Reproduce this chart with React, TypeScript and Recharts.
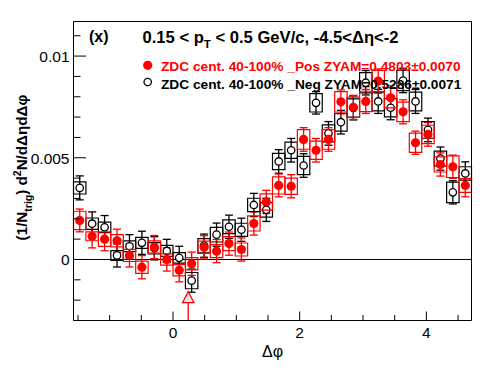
/**
 * Delta-phi correlation, ZDC 40-100%, Pos vs Neg (ZYAM subtracted).
 */

import React from "react";
import {
  ComposedChart, Scatter, XAxis, YAxis, ErrorBar,
  ReferenceArea, ReferenceLine,
} from "recharts";

// bin centres in delta-phi (32 bins over -pi/2 .. 3pi/2)
const phi = [
  -1.4726, -1.2763, -1.0799, -0.8836, -0.6872, -0.4909, -0.2945, -0.0982,
  0.0982, 0.2945, 0.4909, 0.6872, 0.8836, 1.0799, 1.2763, 1.4726,
  1.669, 1.8653, 2.0617, 2.258, 2.4544, 2.6507, 2.8471, 3.0434,
  3.2398, 3.4361, 3.6325, 3.8288, 4.0252, 4.2215, 4.4179, 4.6142,
];
const binWidth = 0.19635;

const posY = [
  0.00192, 0.00114, 0.001, 0.00092, 0.0002, -0.00038, 0.00061, 0.0,
  -0.00053, -0.00021, 0.0006, 0.00041, 0.00078, 0.00049, 0.00177, 0.00283,
  0.00364, 0.0036, 0.0059, 0.00537, 0.0059, 0.00775, 0.00748, 0.00777,
  0.00877, 0.00795, 0.00726, 0.00574, 0.00615, 0.00467, 0.00456, 0.00364,
];
const posStat = [
  0.00056, 0.00057, 0.00057, 0.00057, 0.00057, 0.00057, 0.00057, 0.00057,
  0.00057, 0.00057, 0.00057, 0.00057, 0.00057, 0.00057, 0.00057, 0.00057,
  0.00056, 0.00057, 0.00058, 0.00058, 0.00058, 0.00059, 0.00059, 0.00059,
  0.0006, 0.00059, 0.00059, 0.00057, 0.00058, 0.00057, 0.00057, 0.00056,
];
const posSys = [
  0.00045, 0.00022, 0.00036, 0.0003, 0.0003, 0.0003, 0.0003, 0.00028,
  0.00028, 0.0003, 0.0003, 0.00032, 0.00034, 0.00032, 0.00037, 0.0004,
  0.00042, 0.0004, 0.00048, 0.00045, 0.00048, 0.0005, 0.0005, 0.0005,
  0.00052, 0.0005, 0.00048, 0.00047, 0.00045, 0.00037, 0.00053, 0.00034,
];

const negY = [
  0.00352, 0.00176, 0.00158, 0.0002, 0.00065, 0.00082, 0.00055, 0.00042,
  0.00008, -0.00104, 0.00068, 0.00122, 0.00161, 0.00146, 0.00268, 0.00244,
  0.00482, 0.00537, 0.00462, 0.0077, 0.0062, 0.00675, 0.00745, 0.00869,
  0.00777, 0.00746, 0.0088, 0.00777, 0.00637, 0.00496, 0.0033, 0.00423,
];
const negStat = [
  0.00059, 0.00058, 0.00058, 0.00057, 0.00057, 0.00057, 0.00057, 0.00057,
  0.00057, 0.00057, 0.00057, 0.00057, 0.00057, 0.00057, 0.00057, 0.00057,
  0.00058, 0.00058, 0.00058, 0.00055, 0.00058, 0.00058, 0.00059, 0.0006,
  0.00059, 0.00059, 0.0006, 0.00059, 0.00058, 0.00057, 0.00057, 0.00057,
];
const negSys = [
  0.0003, 0.00028, 0.00026, 0.00024, 0.00026, 0.00027, 0.00028, 0.00027,
  0.00026, 0.0004, 0.00035, 0.00036, 0.00034, 0.00032, 0.00033, 0.00036,
  0.0004, 0.0004, 0.00045, 0.00045, 0.00042, 0.00044, 0.00045, 0.0005,
  0.00046, 0.00045, 0.0005, 0.00046, 0.00041, 0.00037, 0.0005, 0.00033,
];

// red arrow-like marker near phi ~ 0.24
const arrowX = 0.24;
const arrowY = -0.00185;
const arrowBase = -0.0021;

const xMin = -Math.PI / 2;
const xMax = (3 * Math.PI) / 2;
const yMin = -0.003;
const yMax = 0.0117;

const xTicks = [-1.5, -1, -0.5, 0, 0.5, 1, 1.5, 2, 2.5, 3, 3.5, 4, 4.5];
const xMajor = [0, 2, 4];
const yTicks = [
  -0.003, -0.002, -0.001, 0, 0.001, 0.002, 0.003, 0.004,
  0.005, 0.006, 0.007, 0.008, 0.009, 0.01, 0.011,
];
const yMajor = [0, 0.005, 0.01];
const yLabels = ["0", "0.005", "0.01"];

const FONT = "'Liberation Sans', Arial, Helvetica, sans-serif";
const RED = "#ff0000";

const posData = phi.map((x, i) => ({ x, y: posY[i], err: posStat[i], sys: posSys[i] }));
const negData = phi.map((x, i) => ({ x, y: negY[i], err: negStat[i], sys: negSys[i] }));
const arrowData = [{ x: arrowX, y: arrowY }];

const near = (a: number, b: number) => Math.abs(a - b) < 1e-9;

const YTick = (props: any) => {
  const { x, y, payload } = props;
  const idx = yMajor.findIndex((m) => near(m, payload.value));
  const major = idx >= 0;
  return (
    <g>
      <line x1={x} x2={x + (major ? 12.5 : 7)} y1={y} y2={y} stroke="#000" />
      {major && (
        <text x={x - 4} y={y + 6} textAnchor="end" fontSize={15.5} fontFamily={FONT} fill="#000">
          {yLabels[idx]}
        </text>
      )}
    </g>
  );
};

const XTick = (props: any) => {
  const { x, y, payload } = props;
  const major = xMajor.some((m) => near(m, payload.value));
  return (
    <g>
      <line x1={x} x2={x} y1={y} y2={y - (major ? 9 : 5.5)} stroke="#000" />
      {major && (
        <text x={x} y={y + 17} textAnchor="middle" fontSize={15.5} fontFamily={FONT} fill="#000">
          {payload.value}
        </text>
      )}
    </g>
  );
};

const RedDot = (p: any) => <circle cx={p.cx} cy={p.cy} r={4.6} fill={RED} />;
const OpenCircle = (p: any) => (
  <circle cx={p.cx} cy={p.cy} r={3.7} fill="#fff" stroke="#000" strokeWidth={1.3} />
);
const Triangle = (p: any) => (
  <polygon
    points={`${p.cx},${p.cy - 5.5} ${p.cx - 5.7},${p.cy + 5.5} ${p.cx + 5.7},${p.cy + 5.5}`}
    fill="#e6e6e6"
    stroke={RED}
    strokeWidth={1.2}
  />
);

export default function App() {
  return (
    <div style={{ position: "absolute", left: 0, top: 0, width: 496, height: 374, background: "#fff" }}>
      <ComposedChart
        width={496}
        height={374}
        margin={{ top: 21.5, right: 24.5, bottom: 23.5, left: 0 }}
      >
        <XAxis
          dataKey="x"
          type="number"
          domain={[xMin, xMax]}
          allowDataOverflow
          ticks={xTicks}
          interval={0}
          tick={<XTick />}
          tickLine={false}
          tickSize={0}
          tickMargin={0}
          axisLine={false}
          height={30}
        />
        <YAxis
          dataKey="y"
          type="number"
          domain={[yMin, yMax]}
          allowDataOverflow
          ticks={yTicks}
          interval={0}
          tick={<YTick />}
          tickLine={false}
          tickSize={0}
          tickMargin={0}
          axisLine={false}
          width={73.5}
        />

        <ReferenceLine y={0} stroke="#000" strokeWidth={1} ifOverflow="visible" />

        {negData.map((d, i) => (
          <ReferenceArea
            key={"nb" + i}
            x1={d.x - binWidth / 2}
            x2={d.x + binWidth / 2}
            y1={d.y - d.sys}
            y2={d.y + d.sys}
            fill="none"
            stroke="#000"
            strokeWidth={1.2}
            ifOverflow="visible"
            zIndex={601}
          />
        ))}
        <Scatter data={negData} shape={OpenCircle} isAnimationActive={false} zIndex={602}>
          <ErrorBar dataKey="err" direction="y" width={4} stroke="#000" strokeWidth={1.3} />
        </Scatter>

        {posData.map((d, i) => (
          <ReferenceArea
            key={"pb" + i}
            x1={d.x - binWidth / 2}
            x2={d.x + binWidth / 2}
            y1={d.y - d.sys}
            y2={d.y + d.sys}
            fill="none"
            stroke={RED}
            strokeWidth={1.2}
            ifOverflow="visible"
            zIndex={603}
          />
        ))}
        <Scatter data={posData} shape={RedDot} isAnimationActive={false} zIndex={604}>
          <ErrorBar dataKey="err" direction="y" width={4} stroke={RED} strokeWidth={1.3} />
        </Scatter>

        <ReferenceLine
          segment={[{ x: arrowX, y: arrowBase }, { x: arrowX, y: yMin }]}
          stroke={RED}
          strokeWidth={1.3}
          ifOverflow="visible"
          zIndex={605}
        />
        <Scatter data={arrowData} shape={Triangle} isAnimationActive={false} zIndex={606} />

        <ReferenceArea
          x1={xMin}
          x2={xMax}
          y1={yMin}
          y2={yMax}
          fill="none"
          stroke="#000"
          strokeWidth={1}
          ifOverflow="visible"
          zIndex={607}
        />
      </ComposedChart>

      <svg
        width={496}
        height={374}
        style={{ position: "absolute", left: 0, top: 0, pointerEvents: "none" }}
        fontFamily={FONT}
      >
        <text x={89} y={41.5} fontSize={16} fontWeight="bold">(x)</text>
        <text x={142.5} y={42.5} fontSize={16.6} fontWeight="bold">
          0.15 &lt; p
          <tspan fontSize={11.5} dy={5.5}>T</tspan>
          <tspan dy={-5.5}> &lt; 0.5 GeV/c, -4.5&lt;Δη&lt;-2</tspan>
        </text>

        <circle cx={147.7} cy={65.3} r={4.6} fill={RED} />
        <text x={161} y={70.5} fontSize={13.7} fontWeight="bold" fill={RED}>
          ZDC cent. 40-100% _Pos ZYAM=0.4803±0.0070
        </text>
        <circle cx={147.7} cy={82} r={3.7} fill="none" stroke="#000" strokeWidth={1.3} />
        <text x={161} y={88.5} fontSize={13.7} fontWeight="bold" fill="#000">
          ZDC cent. 40-100% _Neg ZYAM=0.5286±0.0071
        </text>

        <text
          x={27}
          y={167.5}
          fontSize={15.2}
          fontWeight="bold"
          textAnchor="middle"
          transform="rotate(-90 27 167.5)"
        >
          (1/N
          <tspan fontSize={10.5} dy={5}>trig</tspan>
          <tspan dy={-5}>) d</tspan>
          <tspan fontSize={10.5} dy={-6}>2</tspan>
          <tspan dy={6}>N/dΔηdΔφ</tspan>
        </text>

        <text x={272.5} y={357} fontSize={16} textAnchor="middle">Δφ</text>
      </svg>
    </div>
  );
}
